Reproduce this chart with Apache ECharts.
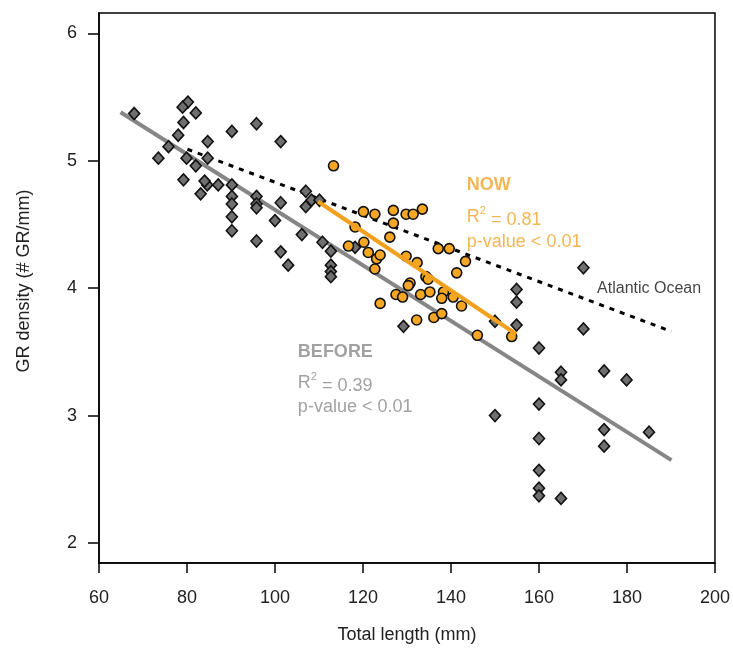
<!DOCTYPE html>
<html>
<head>
<meta charset="utf-8">
<script src="https://cdn.jsdelivr.net/npm/echarts@6/dist/echarts.min.js"></script>
<style>html,body{margin:0;padding:0;background:#fff}#c{width:733px;height:653px}</style>
</head>
<body>
<div id="c"></div>
<script>
// BEFORE samples (grey diamonds)
const beforeX = [68.0,80.2,79.0,82.0,79.2,78.0,90.2,95.8,101.3,84.7,75.8,73.5,79.9,82.0,84.7,79.2,83.1,84.6,87.1,84.0,90.2,90.2,90.2,90.2,90.2,95.8,95.8,95.8,101.3,100.0,95.8,101.3,103.0,106.1,107.0,107.0,108.3,110.1,110.8,112.7,112.7,112.7,112.7,118.2,129.2,150.0,154.9,154.9,154.9,160.0,170.1,170.1,165.0,165.0,174.8,179.9,160.0,150.0,174.8,185.0,174.8,160.0,160.0,160.0,160.0,165.0];
const beforeY = [5.37,5.46,5.42,5.375,5.30,5.20,5.23,5.29,5.15,5.15,5.11,5.02,5.02,4.96,5.02,4.85,4.74,4.81,4.81,4.84,4.81,4.72,4.66,4.56,4.45,4.72,4.66,4.63,4.67,4.53,4.37,4.285,4.18,4.42,4.76,4.64,4.69,4.69,4.36,4.29,4.18,4.13,4.09,4.32,3.70,3.74,3.99,3.89,3.71,3.53,4.16,3.68,3.34,3.28,3.35,3.28,3.09,3.00,2.89,2.87,2.76,2.82,2.57,2.43,2.37,2.35];
// NOW samples (orange circles)
const nowX = [113.3,120.1,122.7,126.9,129.8,131.4,133.5,126.9,118.2,126.1,120.2,116.7,121.2,123.1,123.9,122.7,129.8,132.3,137.1,139.6,143.3,141.3,134.3,134.8,130.7,130.3,133.1,135.2,127.5,129.0,138.3,137.9,140.5,142.4,123.9,132.2,136.1,137.9,146.0,153.8];
const nowY = [4.96,4.60,4.58,4.61,4.58,4.58,4.62,4.51,4.48,4.40,4.36,4.33,4.28,4.23,4.26,4.15,4.25,4.20,4.31,4.31,4.21,4.12,4.09,4.07,4.04,4.02,3.95,3.97,3.95,3.93,3.97,3.92,3.93,3.86,3.88,3.75,3.77,3.80,3.63,3.62];
// regression lines (endpoints)
const beforeFitX = [64.9,190.1];
const beforeFitY = [5.38,2.65];
const nowFitX = [109.8,154.8];
const nowFitY = [4.68,3.64];
const atlanticFitX = [80.1,190.1];
const atlanticFitY = [5.09,3.66];
// tick labels
const xTicks = [60,80,100,120,140,160,180,200];
const yTicks = [2,3,4,5,6];
// annotations
const beforeLabelX = [105.2,105.2,105.2];
const beforeLabelY = [3.50,3.255,3.067];
const beforeLabels = ['{b|BEFORE}','{n|R}{s|2}{m| = 0.39}','{n|p-value < 0.01}'];
const nowLabelX = [143.6,143.6,143.6];
const nowLabelY = [4.81,4.557,4.36];
const nowLabels = ['{b|NOW}','{n|R}{s|2}{m| = 0.81}','{n|p-value < 0.01}'];
const atlanticLabelX = [173.2];
const atlanticLabelY = [4.0];
const atlanticLabels = ['Atlantic Ocean'];

const GREY = '#8a8a8a';
const ORANGE = '#f0a42a';
const FONT = '"Liberation Sans", Arial, sans-serif';

const zip = (xs, ys) => xs.map((x, i) => [x, ys[i]]);
const richFor = (color) => ({
  b: {fontSize: 18, fontWeight: 'bold', color: color, fontFamily: FONT},
  n: {fontSize: 18, color: color, fontFamily: FONT, lineHeight: 22},
  s: {fontSize: 11, color: color, fontFamily: FONT, verticalAlign: 'top', padding: [0,0,12,0]},
  m: {fontSize: 18, color: color, fontFamily: FONT, padding: [5,0,0,0]}
});
const labelSeries = (xs, ys, texts, color, rich, size) => ({
  type: 'scatter', symbolSize: 0, silent: true, z: 10,
  data: xs.map((x, i) => ({value: [x, ys[i]], name: texts[i]})),
  label: {show: true, position: 'right', distance: 0, formatter: p => p.name,
    color: color, fontSize: size, fontFamily: FONT, rich: rich}
});

const chart = echarts.init(document.getElementById('c'), null, {renderer: 'canvas'});
chart.setOption({
  animation: false,
  backgroundColor: '#fff',
  textStyle: {fontFamily: FONT},
  grid: {left: 99, right: 18, top: 13, bottom: 90, show: true, borderColor: '#000', borderWidth: 1.5, backgroundColor: 'transparent'},
  xAxis: {
    type: 'value', min: 60, max: 200, interval: 20,
    axisLine: {show: true, onZero: false, lineStyle: {color: '#000', width: 1.5}},
    axisTick: {show: true, length: 10, lineStyle: {color: '#000', width: 1.5}, customValues: xTicks},
    axisLabel: {color: '#222', fontSize: 18, margin: 26, customValues: xTicks},
    splitLine: {show: false},
    name: 'Total length (mm)', nameLocation: 'middle', nameGap: 63,
    nameTextStyle: {color: '#222', fontSize: 18}
  },
  yAxis: {
    type: 'value', min: 1.843, max: 6.159,
    axisLine: {show: true, onZero: false, lineStyle: {color: '#000', width: 1.5}},
    axisTick: {show: true, length: 11, lineStyle: {color: '#000', width: 1.5}, customValues: yTicks},
    axisLabel: {color: '#222', fontSize: 18, margin: 22, customValues: yTicks},
    splitLine: {show: false},
    name: 'GR density (# GR/mm)', nameLocation: 'middle', nameGap: 66, nameRotate: 90,
    nameTextStyle: {color: '#222', fontSize: 18, padding: [0,0,0,14]}
  },
  series: [
    {type: 'line', data: zip(beforeFitX, beforeFitY), symbol: 'none', z: 3,
     lineStyle: {color: '#868686', width: 4}},
    {type: 'line', data: zip(atlanticFitX, atlanticFitY), symbol: 'none', z: 3,
     lineStyle: {color: '#000', width: 3, type: [5, 6]}},
    {type: 'scatter', data: zip(beforeX, beforeY), symbol: 'diamond', symbolSize: [11, 12], z: 4,
     itemStyle: {color: '#6f6f6f', borderColor: '#111', borderWidth: 1.6, opacity: 1}},
    {type: 'scatter', data: zip(nowX, nowY), symbol: 'circle', symbolSize: 10, z: 5,
     itemStyle: {color: '#f5a623', borderColor: '#111', borderWidth: 1.6, opacity: 1}},
    {type: 'line', data: zip(nowFitX, nowFitY), symbol: 'none', z: 6,
     lineStyle: {color: '#f2a11f', width: 4}},
    labelSeries(beforeLabelX, beforeLabelY, beforeLabels, GREY, richFor(GREY), 18),
    labelSeries(nowLabelX, nowLabelY, nowLabels, ORANGE, richFor(ORANGE), 18),
    labelSeries(atlanticLabelX, atlanticLabelY, atlanticLabels, '#111', undefined, 16)
  ]
});
</script>
</body>
</html>
